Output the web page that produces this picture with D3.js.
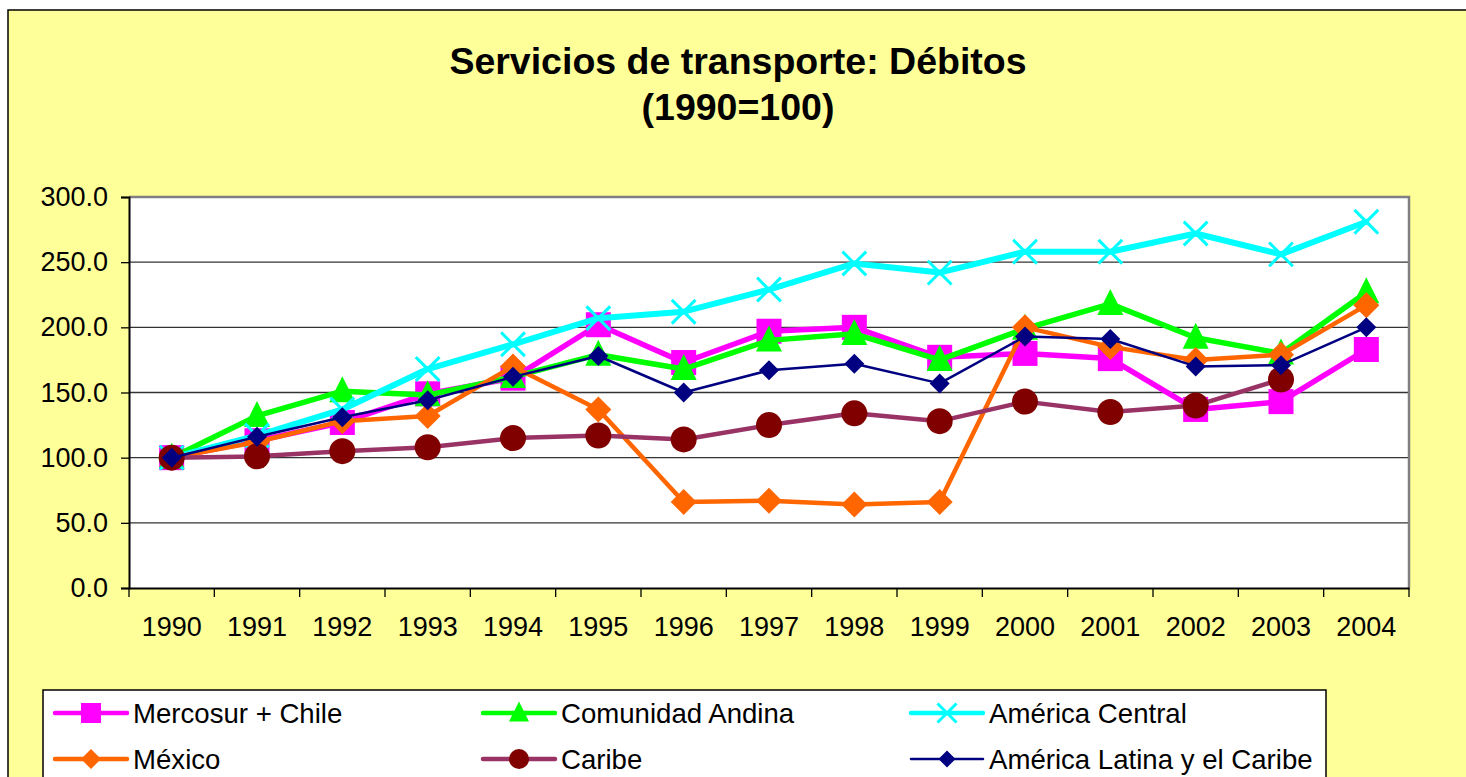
<!DOCTYPE html>
<html>
<head>
<meta charset="utf-8">
<script src="https://cdn.jsdelivr.net/npm/d3@7"></script>
<style>
html,body{margin:0;padding:0;background:#fff;}
svg{display:block;font-family:"Liberation Sans",Arial,sans-serif;}
</style>
</head>
<body>
<svg id="chart" width="1466" height="777"></svg>
<script>
const years = ["1990","1991","1992","1993","1994","1995","1996","1997","1998","1999","2000","2001","2002","2003","2004"];
const yTicks = [0,50,100,150,200,250,300];
const mercosur = [100,113,127,149,161,202,173,197,200,177,180,176,137,143,183];
const andina   = [100,132,151,148,162,179,168,190,195,175,199,218,192,180,227];
const central  = [100,117,137,168,187,207,212,229,249,242,258,258,272,256,281];
const mexico   = [100,112,128,132,170,137,66,67,64,66,200,185,175,179,217];
const caribe   = [100,101,105,108,115,117,114,125,134,128,143,135,140,160,null];
const alc      = [100,116,131,144,162,178,150,167,172,157,193,191,170,171,200];
const seriesNames = ["Mercosur + Chile","Comunidad Andina","América Central","México","Caribe","América Latina y el Caribe"];
const titleLines = ["Servicios de transporte: Débitos","(1990=100)"];

const styles = [
  {line:"#FF00FF", fill:"#FF00FF", w:5.5, marker:"square", size:25, lsize:20},
  {line:"#00FF00", fill:"#00FF00", w:5.5, marker:"triangle", size:26, lsize:20},
  {line:"#00FFFF", fill:"#00FFFF", w:6, marker:"x", size:25, lsize:20},
  {line:"#FF6600", fill:"#FF6600", w:4.5, marker:"diamond", size:26, lsize:20},
  {line:"#993366", fill:"#800000", w:4.5, marker:"circle", size:26, lsize:20},
  {line:"#000080", fill:"#000080", w:2.5, marker:"diamond", size:20, lsize:17}
];
const allSeries = [mercosur, andina, central, mexico, caribe, alc];

const svg = d3.select("#chart");
svg.append("rect").attr("x",8).attr("y",10).attr("width",1470).attr("height",780)
  .attr("fill","#FFFF99").attr("stroke","#000").attr("stroke-width",1.5);

const title = svg.append("text").attr("text-anchor","middle")
  .attr("font-size",37.5).attr("font-weight","bold").attr("fill","#000");
titleLines.forEach((t,i)=>{
  title.append("tspan").attr("x",738).attr("y",i===0?74:120).text(t);
});

const L=129, R=1409, T=197, B=588;
const x = d3.scaleBand().domain(years).range([L,R]).padding(0);
const y = d3.scaleLinear().domain([0,300]).range([B,T]);
const cx = d => x(d) + x.bandwidth()/2;

svg.append("rect").attr("x",L).attr("y",T).attr("width",R-L).attr("height",B-T).attr("fill","#fff");

svg.append("g").selectAll("line").data(yTicks.filter(v=>v>0 && v<300)).join("line")
  .attr("x1",L).attr("x2",R).attr("y1",d=>y(d)).attr("y2",d=>y(d))
  .attr("stroke","#333").attr("stroke-width",1.3);

svg.append("path").attr("d",`M${L},${T}H${R}V${B}`).attr("fill","none")
  .attr("stroke","#808080").attr("stroke-width",2.5);

const yAxis = d3.axisLeft(y).tickValues(yTicks).tickFormat(d3.format(".1f")).tickSize(8).tickPadding(13);
const gy = svg.append("g").attr("transform",`translate(${L},0)`).call(yAxis);
gy.select(".domain").attr("stroke","#000").attr("stroke-width",2);
gy.selectAll(".tick line").attr("stroke","#000").attr("stroke-width",1.3);
gy.selectAll("text").attr("font-size",27).attr("fill","#000").attr("font-family","Liberation Sans, Arial, sans-serif");

const xAxis = d3.axisBottom(x).tickSize(0).tickPadding(0);
const gx = svg.append("g").attr("transform",`translate(0,${B})`).call(xAxis);
gx.select(".domain").attr("stroke","#000").attr("stroke-width",2);
gx.selectAll(".tick line").remove();
gx.selectAll("text").attr("font-size",27).attr("fill","#000").attr("dy",null).attr("y",48)
  .attr("font-family","Liberation Sans, Arial, sans-serif");
const bounds = years.map(d=>x(d)).concat([R]);
svg.append("g").selectAll("line").data(bounds).join("line")
  .attr("x1",d=>d).attr("x2",d=>d).attr("y1",B).attr("y2",B+9)
  .attr("stroke","#000").attr("stroke-width",1.3);

function drawMarker(g, type, px, py, s, st){
  const h=s/2;
  if(type==="square"){
    g.append("rect").attr("x",px-h).attr("y",py-h).attr("width",s).attr("height",s).attr("fill",st.fill);
  } else if(type==="triangle"){
    g.append("path").attr("d",`M${px},${py-h*1.15}L${px+h},${py+h*0.85}L${px-h},${py+h*0.85}Z`).attr("fill",st.fill);
  } else if(type==="diamond"){
    g.append("path").attr("d",`M${px},${py-h}L${px+h},${py}L${px},${py+h}L${px-h},${py}Z`).attr("fill",st.fill);
  } else if(type==="circle"){
    g.append("circle").attr("cx",px).attr("cy",py).attr("r",h).attr("fill",st.fill);
  } else if(type==="x"){
    const k=h*0.95;
    g.append("path").attr("d",`M${px-k},${py-k}L${px+k},${py+k}M${px-k},${py+k}L${px+k},${py-k}`)
      .attr("stroke",st.fill).attr("stroke-width",3).attr("fill","none");
  }
}

allSeries.forEach((vals,i)=>{
  const st = styles[i];
  const g = svg.append("g");
  const pts = years.map((yr,j)=>({yr, v:vals[j]}));
  const line = d3.line().defined(d=>d.v!=null).x(d=>cx(d.yr)).y(d=>y(d.v));
  g.append("path").datum(pts).attr("d",line).attr("fill","none")
    .attr("stroke",st.line).attr("stroke-width",st.w).attr("stroke-linejoin","round").attr("stroke-linecap","round");
  pts.filter(d=>d.v!=null).forEach(d=>drawMarker(g, st.marker, cx(d.yr), y(d.v), st.size, st));
});

const lg = svg.append("g");
lg.append("rect").attr("x",43).attr("y",690).attr("width",1283).attr("height",120)
  .attr("fill","#fff").attr("stroke","#000").attr("stroke-width",1.5);
const colX=[53,481,909], rowY=[713,759];
seriesNames.forEach((name,i)=>{
  const st=styles[i];
  const lx=colX[i%3], ly=rowY[Math.floor(i/3)];
  lg.append("line").attr("x1",lx+2).attr("x2",lx+74).attr("y1",ly).attr("y2",ly)
    .attr("stroke",st.line).attr("stroke-width",i===5?2.5:4.5).attr("stroke-linecap","round");
  drawMarker(lg, st.marker, lx+38, ly, st.lsize, st);
  lg.append("text").attr("x",lx+80).attr("y",ly+9.5).attr("font-size",27.6).attr("fill","#000").text(name);
});
</script>
</body>
</html>
